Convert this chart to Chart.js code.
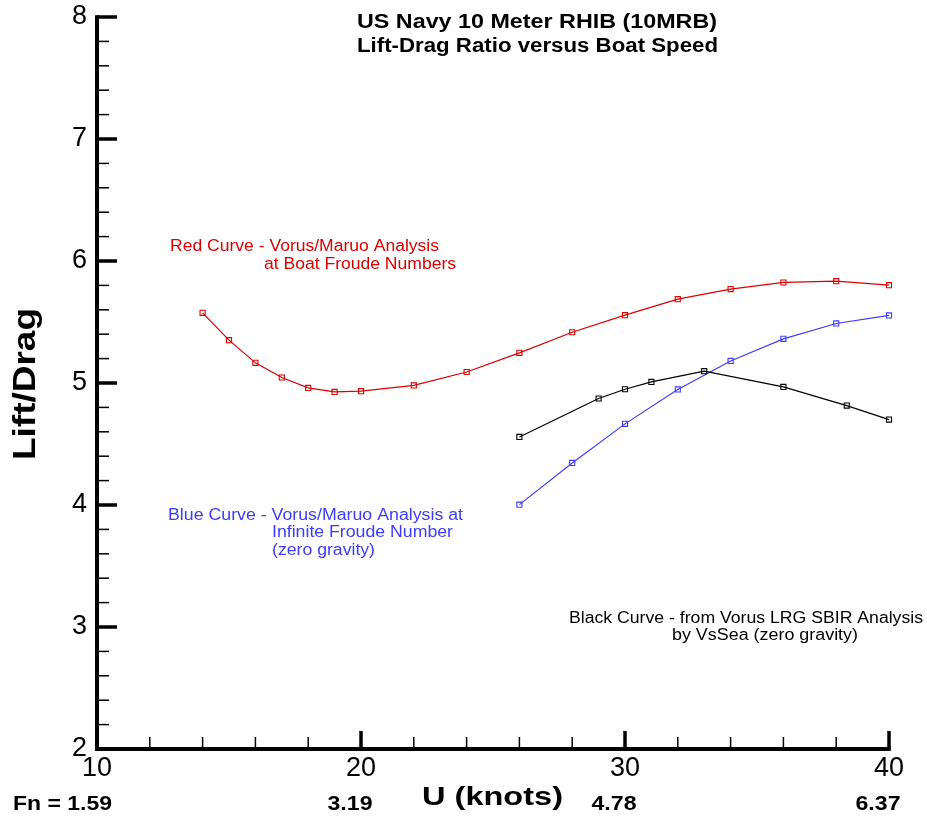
<!DOCTYPE html>
<html><head><meta charset="utf-8">
<script src="https://cdn.jsdelivr.net/npm/chart.js@4"></script>
<style>html,body{margin:0;padding:0;background:#fff;}#wrap{width:927px;height:821px;position:relative;}</style>
</head><body><div id="wrap"><canvas id="c" width="927" height="821"></canvas></div>
<script>
// ---- data ----
const redSpeed = [14,15,16,17,18,19,20,22,24,26,28,30,32,34,36,38,40];
const redLD    = [5.575,5.351,5.165,5.045,4.960,4.927,4.933,4.98,5.09,5.247,5.416,5.556,5.687,5.77,5.824,5.835,5.802];
const blueSpeed = [26,28,30,32,34,36,38,40];
const blueLD    = [4.003,4.345,4.665,4.947,5.181,5.362,5.488,5.554];
const blackSpeed = [26,29,30,31,33,36,38.4,40];
const blackLD    = [4.558,4.873,4.949,5.009,5.097,4.968,4.815,4.70];
const xTicks = [10,20,30,40];
const yTicks = [2,3,4,5,6,7,8];
const froudeAt = [10,20,30,40];
const froudeLabels = ['Fn = 1.59','3.19','4.78','6.37'];
const titleLines = ['US Navy 10 Meter RHIB (10MRB)','Lift-Drag Ratio versus Boat Speed'];
const redNote = ['Red Curve - Vorus/Maruo Analysis','at Boat Froude Numbers'];
const blueNote = ['Blue Curve - Vorus/Maruo Analysis at','Infinite Froude Number','(zero gravity)'];
const blackNote = ['Black Curve - from Vorus LRG SBIR Analysis','by VsSea (zero gravity)'];
const xTitle = 'U (knots)';
const yTitle = 'Lift/Drag';

const FAM = '"Liberation Sans", Arial, Helvetica, sans-serif';
const RED = '#dc0000', BLUE = '#3c3cff', BLACK = '#000000';

function toPts(xs, ys){ return xs.map((v,i)=>({x:v, y:ys[i]})); }

function sText(ctx, txt, x, y, font, color, width, align){
  ctx.save();
  ctx.font = font; ctx.fillStyle = color; ctx.textBaseline = 'alphabetic'; ctx.textAlign = 'left';
  const w = ctx.measureText(txt).width;
  const s = width ? width / w : 1;
  const left = align === 'left' ? x : (align === 'right' ? x - w*s : x - w*s/2);
  ctx.translate(left, y); ctx.scale(s, 1);
  ctx.fillText(txt, 0, 0);
  ctx.restore();
}

const decor = {
  id: 'decor',
  beforeDraw(chart){
    const ctx = chart.ctx; ctx.save(); ctx.fillStyle = '#fff'; ctx.fillRect(0,0,chart.width,chart.height); ctx.restore();
  },
  afterDraw(chart){
    const {ctx, scales:{x, y}} = chart;
    const x0 = x.getPixelForValue(x.min), x1 = x.getPixelForValue(x.max);
    const y0 = y.getPixelForValue(y.min), y1 = y.getPixelForValue(y.max);
    ctx.save();
    ctx.strokeStyle = '#000'; ctx.lineCap = 'butt';
    const seg = (a,b,c,d)=>{ ctx.beginPath(); ctx.moveTo(a,b); ctx.lineTo(c,d); ctx.stroke(); };
    // minor ticks
    ctx.lineWidth = 1.5;
    for (let v = x.min + 2; v < x.max; v += 2) { if (v % 10 !== 0) { const p = x.getPixelForValue(v); seg(p, y0, p, y0 - 12); } }
    for (let i = 1; i < (y.max - y.min) * 5; i++) { if (i % 5 !== 0) { const p = y.getPixelForValue(y.min + i * 0.2); seg(x0, p, x0 + 12, p); } }
    // major ticks
    ctx.lineWidth = 3.5;
    xTicks.forEach(v => { const p = x.getPixelForValue(v); seg(p, y0, p, y0 - 18); });
    yTicks.forEach(v => { const p = y.getPixelForValue(v); seg(x0, p, x0 + 20, p); });
    // axis lines
    ctx.lineWidth = 4; ctx.lineJoin = 'miter';
    ctx.beginPath(); ctx.moveTo(x0, y1 - 1.75); ctx.lineTo(x0, y0); ctx.lineTo(x1 + 1.75, y0); ctx.stroke();
    ctx.restore();

    // title
    sText(ctx, titleLines[0], 357, 28, 'bold 20px ' + FAM, '#000', 360, 'left');
    sText(ctx, titleLines[1], 357, 52, 'bold 20px ' + FAM, '#000', 361, 'left');
    // notes
    const nf = '16px ' + FAM;
    sText(ctx, redNote[0], 170, 251, nf, RED, 269, 'left');
    sText(ctx, redNote[1], 264, 269, nf, RED, 192, 'left');
    sText(ctx, blueNote[0], 168, 520, nf, BLUE, 295, 'left');
    sText(ctx, blueNote[1], 272, 537, nf, BLUE, 181, 'left');
    sText(ctx, blueNote[2], 272, 555, nf, BLUE, 103, 'left');
    sText(ctx, blackNote[0], 569, 623, nf, BLACK, 354, 'left');
    sText(ctx, blackNote[1], 672, 640, nf, BLACK, 186, 'left');
    // axis titles
    sText(ctx, xTitle, 422, 805, 'bold 26px ' + FAM, '#000', 141, 'left');
    ctx.save(); ctx.translate(35, 460); ctx.rotate(-Math.PI/2);
    sText(ctx, yTitle, 0, 0, 'bold 31px ' + FAM, '#000', 152, 'left');
    ctx.restore();
    // Froude numbers
    const ff = 'bold 20px ' + FAM;
    froudeAt.forEach((v,i) => {
      const p = x.getPixelForValue(v);
      if (i === 0) sText(ctx, froudeLabels[i], p + 15, 810, ff, '#000', 99, 'right');
      else sText(ctx, froudeLabels[i], p - 11, 810, ff, '#000', 45, 'center');
    });
  }
};

const ds = (label, xs, ys, color) => ({
  label, data: toPts(xs, ys), borderColor: color, backgroundColor: 'rgba(0,0,0,0)',
  borderWidth: 1.2, pointStyle: 'rect', pointRadius: 3.6, pointBorderWidth: 1.1,
  pointBorderColor: color, pointBackgroundColor: 'rgba(0,0,0,0)', tension: 0, clip: false, fill: false
});

new Chart(document.getElementById('c'), {
  type: 'line',
  data: { datasets: [
    ds('Red', redSpeed, redLD, RED),
    ds('Black', blackSpeed, blackLD, BLACK),
    ds('Blue', blueSpeed, blueLD, BLUE)
  ]},
  options: {
    responsive: false, animation: false, devicePixelRatio: 1,
    layout: { padding: { top: 17, right: 38, left: 0, bottom: 0 } },
    plugins: { legend: { display: false }, title: { display: false }, tooltip: { enabled: false } },
    scales: {
      x: {
        type: 'linear', min: 10, max: 40,
        afterBuildTicks: s => { s.ticks = xTicks.map(v => ({ value: v })); },
        afterFit: s => { s.height = 72; s.paddingLeft = 0; s.paddingRight = 0; },
        grid: { display: false, drawTicks: false, tickLength: 0 },
        border: { display: false },
        ticks: { font: { family: FAM, size: 27 }, color: '#000', padding: 3, maxRotation: 0, autoSkip: false }
      },
      y: {
        type: 'linear', min: 2, max: 8,
        afterBuildTicks: s => { s.ticks = yTicks.map(v => ({ value: v })); },
        afterFit: s => { s.width = 97; s.paddingTop = 0; s.paddingBottom = 0; },
        grid: { display: false, drawTicks: false, tickLength: 0 },
        border: { display: false },
        ticks: { font: { family: FAM, size: 27 }, color: '#000', padding: 10, autoSkip: false }
      }
    }
  },
  plugins: [decor]
});
</script></body></html>
